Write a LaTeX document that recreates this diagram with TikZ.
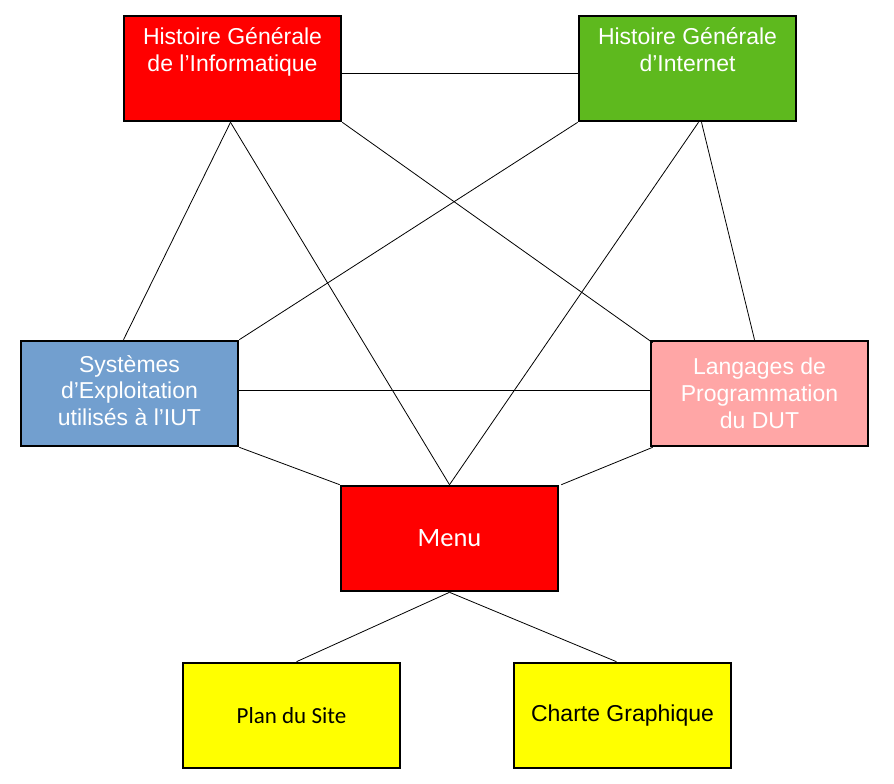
\documentclass[tikz,border=0pt]{standalone}
\usepackage{fontspec}
\setmainfont{Liberation Sans}
\newfontfamily\arialf{Liberation Sans}
\newfontfamily\calibri{Carlito}
\definecolor{hgreen}{RGB}{94,185,30}
\definecolor{hblue}{RGB}{114,159,207}
\definecolor{hpink}{RGB}{255,166,166}
\definecolor{hyellow}{RGB}{255,255,0}
\definecolor{hred}{RGB}{255,0,0}
\begin{document}
\begin{tikzpicture}[x=1pt,y=-1pt,
  box/.style={draw=black, line width=2.6pt, minimum width=217pt, minimum height=105pt, inner sep=0pt},
  toptext/.style={text=white, align=center, font=\arialf\fontsize{23}{27}\selectfont, anchor=north, inner sep=0pt},
  midtext/.style={text=white, align=center, font=\arialf\fontsize{23}{26.8}\selectfont},
  conn/.style={draw=black, line width=0.8pt}]
\useasboundingbox (0,0) rectangle (894,784);
\node[box, fill=hred] (hgi) at (232.5,68.5) {};
\node[toptext] (hgit) at ([yshift=-13pt]hgi.north) {Histoire Générale\\de l’Informatique};
\node[box, fill=hgreen] (hgint) at (687.5,68.5) {};
\node[toptext] (hgintt) at ([yshift=-13pt]hgint.north) {Histoire Générale\\d’Internet};
\node[box, fill=hblue, midtext] (sys) at (129.5,393.5) {\raisebox{8pt}{\begin{tabular}{@{}c@{}}Systèmes\\d’Exploitation\\utilisés à l’IUT\end{tabular}}};
\node[box, fill=hpink, midtext] (lang) at (759.5,393.5) {Langages de\\Programmation\\du DUT};
\node[box, fill=hred, text=white, font=\calibri\fontsize{26.5}{30}\selectfont] (menu) at (449.5,538.5) {\raisebox{-4pt}{Menu}};
\node[box, fill=hyellow, text=black, font=\calibri\fontsize{23}{27}\selectfont] (plan) at (291.5,715.5) {\raisebox{-5pt}{Plan du Site}};
\node[box, fill=hyellow, text=black, font=\arialf\fontsize{23}{27}\selectfont] (charte) at (622.5,715.5) {\raisebox{-2pt}{Charte Graphique}};
\draw[conn] ([yshift=-5pt]hgi.east) -- ([yshift=-5pt]hgint.west);
\draw[conn] ([xshift=-2pt]hgi.south) -- ([xshift=-6pt]sys.north);
\draw[conn] ([xshift=-2pt]hgi.south) -- (menu.north);
\draw[conn] (hgi.south east) -- ([xshift=3pt,yshift=-3pt]lang.north west);
\draw[conn] (hgint.south west) -- (sys.north east);
\draw[conn] ([xshift=11pt]hgint.south) -- (menu.north);
\draw[conn] ([xshift=14pt]hgint.south) -- ([xshift=-5pt]lang.north);
\draw[conn] ([yshift=3pt]sys.east) -- ([yshift=3pt]lang.west);
\draw[conn] (sys.south east) -- (menu.north west);
\draw[conn] ([xshift=3pt]lang.south west) -- ([xshift=2pt]menu.north east);
\draw[conn] (menu.south) -- ([xshift=5pt]plan.north);
\draw[conn] (menu.south) -- ([xshift=-6pt]charte.north);
\end{tikzpicture}
\end{document}
